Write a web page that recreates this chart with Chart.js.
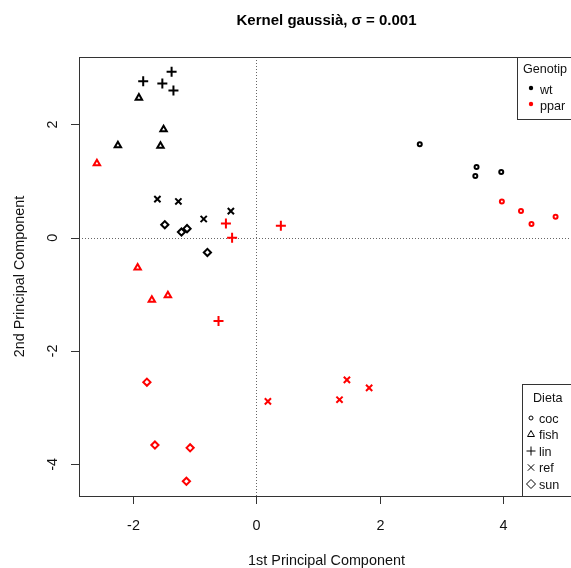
<!DOCTYPE html>
<html>
<head>
<meta charset="utf-8">
<script src="https://cdn.jsdelivr.net/npm/chart.js@4/dist/chart.umd.min.js"></script>
<style>
  html, body { margin: 0; padding: 0; overflow: hidden; background: #fff; }
  #wrap { width: 571px; height: 568px; }
</style>
</head>
<body>
<div id="wrap"><canvas id="pca" width="571" height="568"></canvas></div>
<script>
// ---- data: PCA scores per sample ----
const genotypes = ['wt', 'ppar'];
const diets = ['coc', 'fish', 'lin', 'ref', 'sun'];

const sampleGenotype = [
  'wt','wt','wt','wt',  'wt','wt','wt','wt',  'wt','wt','wt','wt',  'wt','wt','wt','wt',  'wt','wt','wt','wt',
  'ppar','ppar','ppar','ppar',  'ppar','ppar','ppar','ppar',  'ppar','ppar','ppar','ppar',
  'ppar','ppar','ppar','ppar',  'ppar','ppar','ppar','ppar'
];
const sampleDiet = [
  'coc','coc','coc','coc',  'fish','fish','fish','fish',  'lin','lin','lin','lin',  'ref','ref','ref','ref',  'sun','sun','sun','sun',
  'coc','coc','coc','coc',  'fish','fish','fish','fish',  'lin','lin','lin','lin',  'ref','ref','ref','ref',  'sun','sun','sun','sun'
];
const pc1 = [
  2.65, 3.57, 3.55, 3.97,   -1.90, -1.50, -2.24, -1.55,   -1.37, -1.83, -1.52, -1.34,   -1.60, -1.26, -0.41, -0.85,   -1.48, -1.21, -1.12, -0.79,
  3.98, 4.29, 4.46, 4.85,   -2.58, -1.92, -1.43, -1.69,   -0.49, -0.39, 0.40, -0.61,    0.19, 1.47, 1.83, 1.35,       -1.77, -1.64, -1.07, -1.13
];
const pc2 = [
  1.65, 1.25, 1.09, 1.16,   2.47, 1.91, 1.63, 1.62,       2.93, 2.76, 2.72, 2.60,       0.68, 0.64, 0.47, 0.33,       0.23, 0.10, 0.16, -0.26,
  0.64, 0.47, 0.24, 0.37,   1.31, -0.53, -1.02, -1.10,    0.25, 0.00, 0.21, -1.47,      -2.89, -2.51, -2.65, -2.86,   -2.55, -3.66, -3.71, -4.30
];

// visible plotting window (the right edge of the frame falls just past the canvas)
const xLimits = [-2.87, 5.10];
const yLimits = [-4.56, 3.19];
const xTicks = [-2, 0, 2, 4];
const yTicks = [-4, -2, 0, 2];

const titleText = 'Kernel gaussià, σ = 0.001';
const xTitle = '1st Principal Component';
const yTitle = '2nd Principal Component';
const genotypeLegendTitle = 'Genotip';
const dietLegendTitle = 'Dieta';

// ---- styling ----
const genotypeColor = { wt: '#000000', ppar: '#ff0000' };
const dietStyle  = { coc: 'circle', fish: 'triangle', lin: 'cross', ref: 'crossRot', sun: 'rectRot' };
const dietRadius = { coc: 2, fish: 3.7, lin: 5, ref: 4.4, sun: 3.6 };
const FONT = '"Liberation Sans", Arial, Helvetica, sans-serif';
const INK = '#111';

const datasets = [];
genotypes.forEach(g => {
  diets.forEach(d => {
    const pts = [];
    for (let i = 0; i < pc1.length; i++) {
      if (sampleGenotype[i] === g && sampleDiet[i] === d) pts.push({ x: pc1[i], y: pc2[i] });
    }
    datasets.push({
      label: g + ' ' + d,
      data: pts,
      showLine: false,
      pointStyle: dietStyle[d],
      pointRadius: dietRadius[d],
      pointHoverRadius: dietRadius[d],
      pointBorderWidth: 2,
      borderColor: genotypeColor[g],
      backgroundColor: 'rgba(0,0,0,0)'
    });
  });
});

// small symbol painter used by the legend boxes
function symbol(ctx, style, x, y, r) {
  ctx.beginPath();
  if (style === 'circle') {
    ctx.arc(x, y, r, 0, Math.PI * 2);
  } else if (style === 'triangle') {
    for (let k = 0; k < 3; k++) {
      const a = k * 2 * Math.PI / 3;
      const px = x + Math.sin(a) * r, py = y - Math.cos(a) * r;
      k ? ctx.lineTo(px, py) : ctx.moveTo(px, py);
    }
    ctx.closePath();
  } else if (style === 'cross') {
    ctx.moveTo(x - r, y); ctx.lineTo(x + r, y);
    ctx.moveTo(x, y - r); ctx.lineTo(x, y + r);
  } else if (style === 'crossRot') {
    const o = r * Math.SQRT1_2;
    ctx.moveTo(x - o, y - o); ctx.lineTo(x + o, y + o);
    ctx.moveTo(x - o, y + o); ctx.lineTo(x + o, y - o);
  } else if (style === 'rectRot') {
    ctx.moveTo(x - r, y); ctx.lineTo(x, y - r); ctx.lineTo(x + r, y); ctx.lineTo(x, y + r);
    ctx.closePath();
  }
  ctx.stroke();
}

const frame = {
  id: 'frame',
  beforeDatasetsDraw(chart) {
    const { ctx, chartArea: a, scales: { x, y } } = chart;
    ctx.save();
    ctx.strokeStyle = '#666';
    ctx.lineWidth = 1;
    ctx.setLineDash([1, 2]);
    const x0 = Math.round(x.getPixelForValue(0)) + 0.5;
    const y0 = Math.round(y.getPixelForValue(0)) + 0.5;
    ctx.beginPath();
    ctx.moveTo(x0, a.top); ctx.lineTo(x0, a.bottom);
    ctx.moveTo(a.left, y0); ctx.lineTo(a.right, y0);
    ctx.stroke();
    ctx.restore();
  },
  afterDatasetsDraw(chart) {
    const { ctx, chartArea: a, scales: { x, y } } = chart;
    ctx.save();

    // plot box (right side runs just outside the canvas)
    ctx.strokeStyle = '#333';
    ctx.lineWidth = 1;
    ctx.strokeRect(a.left + 0.5, a.top + 0.5, a.right - a.left + 3, a.bottom - a.top);

    // ticks and tick labels
    ctx.fillStyle = INK;
    ctx.font = '14.4px ' + FONT;
    ctx.textAlign = 'center';
    ctx.textBaseline = 'alphabetic';
    ctx.beginPath();
    xTicks.forEach(v => {
      const px = Math.round(x.getPixelForValue(v)) + 0.5;
      ctx.moveTo(px, a.bottom); ctx.lineTo(px, a.bottom + 8);
      ctx.fillText(String(v), px, 530);
    });
    yTicks.forEach(v => {
      const py = Math.round(y.getPixelForValue(v)) + 0.5;
      ctx.moveTo(a.left, py); ctx.lineTo(a.left - 8, py);
    });
    ctx.stroke();
    yTicks.forEach(v => {
      const py = y.getPixelForValue(v);
      ctx.save();
      ctx.translate(57, py);
      ctx.rotate(-Math.PI / 2);
      ctx.fillText(String(v), 0, 0);
      ctx.restore();
    });

    // axis titles, centred on the full frame width
    const cx = (a.left + a.right + 3) / 2;
    const cy = (a.top + a.bottom) / 2;
    ctx.fillText(xTitle, cx, 565);
    ctx.save();
    ctx.translate(23.5, cy);
    ctx.rotate(-Math.PI / 2);
    ctx.fillText(yTitle, 0, 0);
    ctx.restore();

    // main title
    ctx.font = 'bold 15px ' + FONT;
    ctx.fillStyle = '#000';
    ctx.fillText(titleText, cx, 25);

    // genotype legend
    ctx.fillStyle = '#fff';
    ctx.fillRect(517.5, 57.5, 70, 62);
    ctx.strokeStyle = '#333';
    ctx.strokeRect(517.5, 57.5, 70, 62);
    ctx.font = '12.6px ' + FONT;
    ctx.textAlign = 'left';
    ctx.fillStyle = INK;
    ctx.fillText(genotypeLegendTitle, 523, 73);
    genotypes.forEach((g, i) => {
      const ry = 88 + i * 16;
      ctx.fillStyle = genotypeColor[g];
      ctx.beginPath();
      ctx.arc(531, ry, 2.2, 0, Math.PI * 2);
      ctx.fill();
      ctx.fillStyle = INK;
      ctx.fillText(g, 540, ry + 6);
    });

    // diet legend
    ctx.fillStyle = '#fff';
    ctx.fillRect(522.5, 384.5, 70, 112);
    ctx.strokeStyle = '#333';
    ctx.strokeRect(522.5, 384.5, 70, 112);
    ctx.fillStyle = INK;
    ctx.fillText(dietLegendTitle, 533, 401.5);
    ctx.strokeStyle = '#000';
    ctx.lineWidth = 1;
    const legendR = { coc: 2, fish: 4, lin: 4.5, ref: 4.5, sun: 4.5 };
    diets.forEach((d, i) => {
      const ry = 418 + i * 16.5;
      symbol(ctx, dietStyle[d], 531, ry, legendR[d]);
      ctx.fillText(d, 539, ry + 4.5);
    });

    ctx.restore();
  }
};

new Chart(document.getElementById('pca'), {
  type: 'scatter',
  data: { datasets },
  options: {
    responsive: false,
    animation: false,
    events: [],
    layout: { autoPadding: false, padding: { left: 79, top: 57, right: 0, bottom: 72 } },
    scales: {
      x: { type: 'linear', min: xLimits[0], max: xLimits[1], display: false },
      y: { type: 'linear', min: yLimits[0], max: yLimits[1], display: false }
    },
    plugins: { legend: { display: false }, tooltip: { enabled: false }, title: { display: false } }
  },
  plugins: [frame]
});
</script>
</body>
</html>
